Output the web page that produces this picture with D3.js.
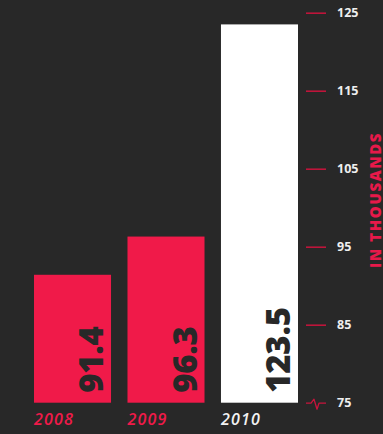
<!DOCTYPE html>
<html>
<head>
<meta charset="utf-8">
<script src="https://cdn.jsdelivr.net/npm/d3@7"></script>
<style>
  html, body { margin: 0; padding: 0; background: #282828; }
  svg { display: block; }
</style>
</head>
<body>
<svg id="chart" width="383" height="434"></svg>
<script>
// Yearly totals, in thousands
const years = ["2008", "2009", "2010"];
const totals = [91.4, 96.3, 123.5];
const tickValues = [75, 85, 95, 105, 115, 125];
const barColors = ["#f01a49", "#f01a49", "#ffffff"];
const yearColors = ["#f01a49", "#f01a49", "#f2f2f2"];

const W = 383, H = 434;
const svg = d3.select("#chart");

svg.append("rect").attr("width", W).attr("height", H).attr("fill", "#282828");

const x = d3.scaleBand()
  .domain(years)
  .range([34, 298])
  .paddingInner(0.176)
  .paddingOuter(0);

const y = d3.scaleLinear()
  .domain([75, 125])
  .range([402.7, 12.7]);

const data = years.map((yr, i) => ({ year: yr, value: totals[i], color: barColors[i], labelColor: yearColors[i] }));

// Bars
svg.append("g").selectAll("rect")
  .data(data)
  .join("rect")
  .attr("x", d => x(d.year))
  .attr("y", d => y(d.value))
  .attr("width", x.bandwidth())
  .attr("height", d => y(75) - y(d.value))
  .attr("fill", d => d.color);

// Value labels, rotated inside the bars
svg.append("g").selectAll("text")
  .data(data)
  .join("text")
  .attr("transform", d => `translate(${x(d.year) + x.bandwidth() - 8},${y(75) - 10}) rotate(-90)`)
  .attr("text-anchor", "start")
  .attr("font-family", "'Open Sans', sans-serif")
  .attr("font-weight", 800)
  .attr("font-size", 33)
  .attr("letter-spacing", -0.3)
  .attr("fill", "#282828")
  .text(d => d.value.toFixed(1));

// Year labels beneath the bars
svg.append("g").selectAll("text")
  .data(data)
  .join("text")
  .attr("x", d => x(d.year))
  .attr("y", 425)
  .attr("font-family", "'Open Sans', sans-serif")
  .attr("font-style", "italic")
  .attr("font-weight", 600)
  .attr("font-size", 16)
  .attr("letter-spacing", 1.2)
  .attr("fill", d => d.labelColor)
  .text(d => d.year);

// Right-hand axis
const axis = d3.axisRight(y)
  .tickValues(tickValues)
  .tickSize(20)
  .tickPadding(11)
  .tickFormat(d3.format("d"));

const gAxis = svg.append("g")
  .attr("transform", "translate(306,0)")
  .call(axis);

gAxis.select(".domain").remove();
gAxis.selectAll(".tick line")
  .attr("stroke", "#c8143c")
  .attr("stroke-width", 1.5)
  .filter(d => d === 75).remove();
gAxis.selectAll(".tick text")
  .attr("fill", "#eeeeee")
  .attr("font-family", "'Open Sans', sans-serif")
  .attr("font-weight", 700)
  .attr("font-size", 12.5);

// Pulse glyph marking the axis base
gAxis.selectAll(".tick")
  .filter(d => d === 75)
  .append("path")
  .attr("d", "M0,0 H5 L8,-4 L11,6 L13,0 H20")
  .attr("fill", "none")
  .attr("stroke", "#c8143c")
  .attr("stroke-width", 1.3)
  .attr("stroke-linejoin", "round");

// Axis title
svg.append("text")
  .attr("transform", "translate(380.5,200) rotate(-90)")
  .attr("text-anchor", "middle")
  .attr("font-family", "'Open Sans', sans-serif")
  .attr("font-weight", 800)
  .attr("font-size", 15)
  .attr("letter-spacing", 1.6)
  .attr("fill", "#e8194a")
  .text("IN THOUSANDS");
</script>
</body>
</html>
